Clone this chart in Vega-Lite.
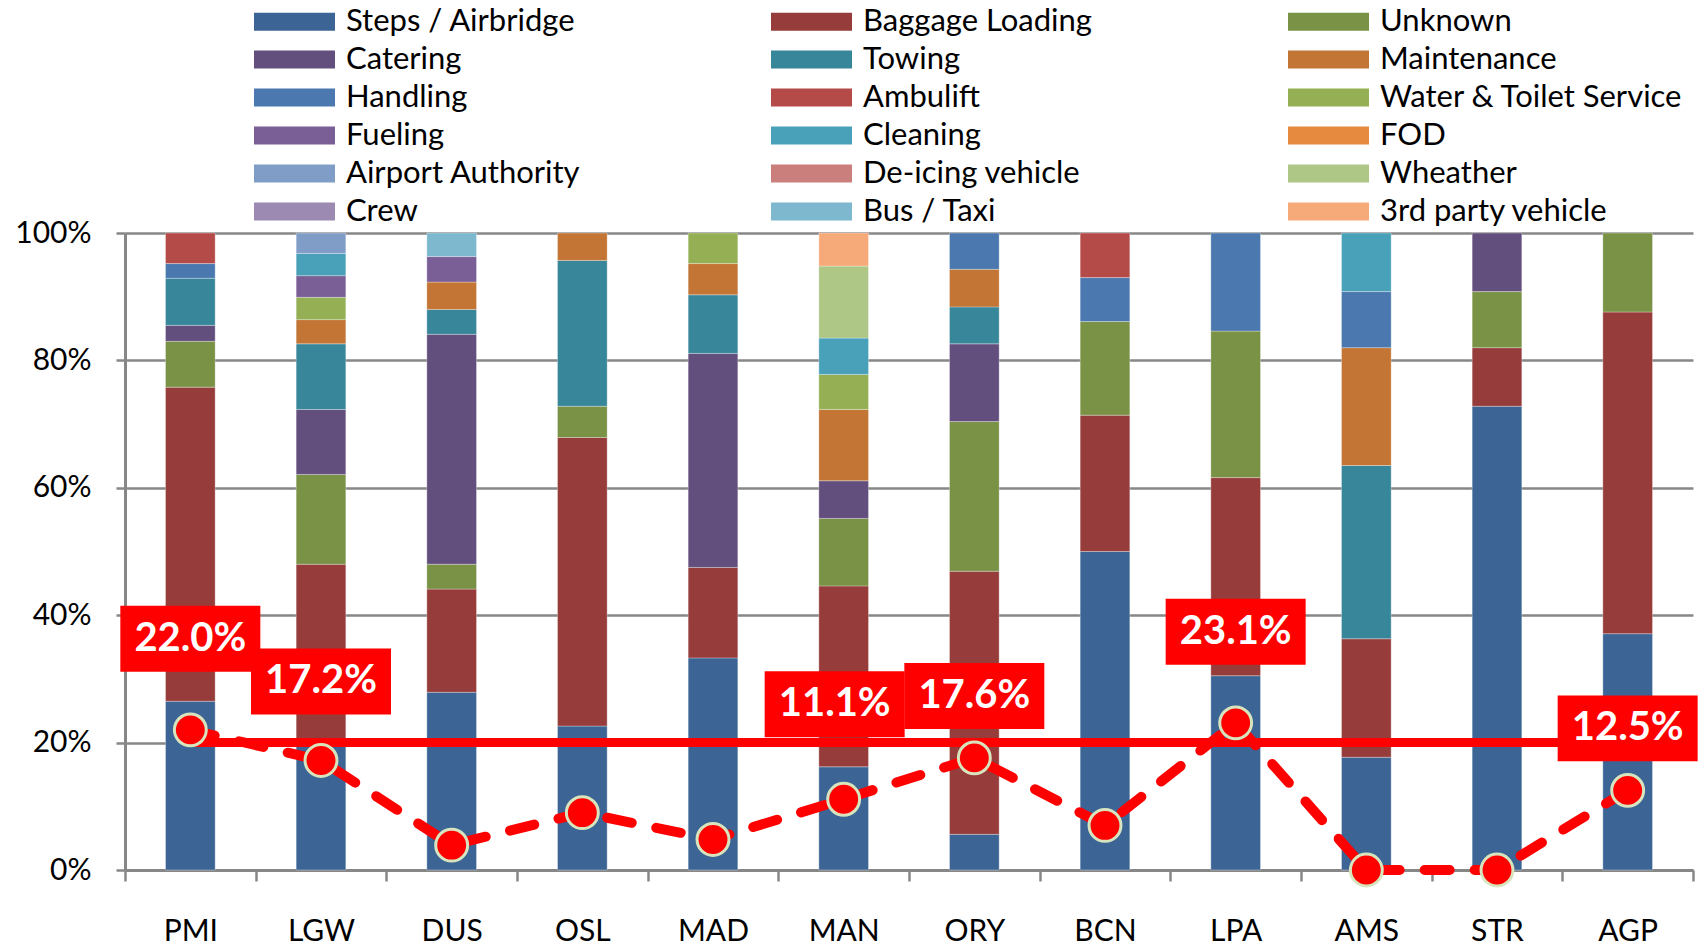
{
  "$schema": "https://vega.github.io/schema/vega-lite/v6.json",
  "width": 1568,
  "height": 637,
  "autosize": {"type": "none"},
  "padding": {"left": 125, "top": 233, "right": 12, "bottom": 76},
  "background": "white",
  "config": {"view": {"stroke": null}, "font": "Lato"},
  "datasets": {
    "causes": [
      {"cause": "Steps / Airbridge", "code": 1},
      {"cause": "Baggage Loading", "code": 2},
      {"cause": "Unknown", "code": 3},
      {"cause": "Catering", "code": 4},
      {"cause": "Towing", "code": 5},
      {"cause": "Maintenance", "code": 6},
      {"cause": "Handling", "code": 7},
      {"cause": "Ambulift", "code": 8},
      {"cause": "Water & Toilet Service", "code": 9},
      {"cause": "Fueling", "code": 10},
      {"cause": "Cleaning", "code": 11},
      {"cause": "FOD", "code": 12},
      {"cause": "Airport Authority", "code": 13},
      {"cause": "De-icing vehicle", "code": 14},
      {"cause": "Wheather", "code": 15},
      {"cause": "Crew", "code": 16},
      {"cause": "Bus / Taxi", "code": 17},
      {"cause": "3rd party vehicle", "code": 18}
    ],
    "shares": [
      {"airport": "PMI", "cause": "Steps / Airbridge", "share": 26.5},
      {"airport": "PMI", "cause": "Baggage Loading", "share": 49.3},
      {"airport": "PMI", "cause": "Unknown", "share": 7.2},
      {"airport": "PMI", "cause": "Catering", "share": 2.5},
      {"airport": "PMI", "cause": "Towing", "share": 7.4},
      {"airport": "PMI", "cause": "Handling", "share": 2.3},
      {"airport": "PMI", "cause": "Ambulift", "share": 4.8},
      {"airport": "LGW", "cause": "Steps / Airbridge", "share": 19.5},
      {"airport": "LGW", "cause": "Baggage Loading", "share": 28.5},
      {"airport": "LGW", "cause": "Unknown", "share": 14.1},
      {"airport": "LGW", "cause": "Catering", "share": 10.2},
      {"airport": "LGW", "cause": "Towing", "share": 10.3},
      {"airport": "LGW", "cause": "Maintenance", "share": 3.8},
      {"airport": "LGW", "cause": "Water & Toilet Service", "share": 3.5},
      {"airport": "LGW", "cause": "Fueling", "share": 3.4},
      {"airport": "LGW", "cause": "Cleaning", "share": 3.5},
      {"airport": "LGW", "cause": "Airport Authority", "share": 3.2},
      {"airport": "DUS", "cause": "Steps / Airbridge", "share": 27.9},
      {"airport": "DUS", "cause": "Baggage Loading", "share": 16.2},
      {"airport": "DUS", "cause": "Unknown", "share": 3.9},
      {"airport": "DUS", "cause": "Catering", "share": 36.1},
      {"airport": "DUS", "cause": "Towing", "share": 3.9},
      {"airport": "DUS", "cause": "Maintenance", "share": 4.3},
      {"airport": "DUS", "cause": "Fueling", "share": 4.0},
      {"airport": "DUS", "cause": "Bus / Taxi", "share": 3.7},
      {"airport": "OSL", "cause": "Steps / Airbridge", "share": 22.6},
      {"airport": "OSL", "cause": "Baggage Loading", "share": 45.3},
      {"airport": "OSL", "cause": "Unknown", "share": 4.9},
      {"airport": "OSL", "cause": "Towing", "share": 22.9},
      {"airport": "OSL", "cause": "Maintenance", "share": 4.3},
      {"airport": "MAD", "cause": "Steps / Airbridge", "share": 33.3},
      {"airport": "MAD", "cause": "Baggage Loading", "share": 14.2},
      {"airport": "MAD", "cause": "Catering", "share": 33.6},
      {"airport": "MAD", "cause": "Towing", "share": 9.2},
      {"airport": "MAD", "cause": "Maintenance", "share": 4.9},
      {"airport": "MAD", "cause": "Water & Toilet Service", "share": 4.8},
      {"airport": "MAN", "cause": "Steps / Airbridge", "share": 16.2},
      {"airport": "MAN", "cause": "Baggage Loading", "share": 28.4},
      {"airport": "MAN", "cause": "Unknown", "share": 10.6},
      {"airport": "MAN", "cause": "Catering", "share": 5.9},
      {"airport": "MAN", "cause": "Maintenance", "share": 11.2},
      {"airport": "MAN", "cause": "Water & Toilet Service", "share": 5.5},
      {"airport": "MAN", "cause": "Cleaning", "share": 5.7},
      {"airport": "MAN", "cause": "Wheather", "share": 11.3},
      {"airport": "MAN", "cause": "3rd party vehicle", "share": 5.2},
      {"airport": "ORY", "cause": "Steps / Airbridge", "share": 5.6},
      {"airport": "ORY", "cause": "Baggage Loading", "share": 41.3},
      {"airport": "ORY", "cause": "Unknown", "share": 23.5},
      {"airport": "ORY", "cause": "Catering", "share": 12.2},
      {"airport": "ORY", "cause": "Towing", "share": 5.8},
      {"airport": "ORY", "cause": "Maintenance", "share": 5.9},
      {"airport": "ORY", "cause": "Handling", "share": 5.7},
      {"airport": "BCN", "cause": "Steps / Airbridge", "share": 50.0},
      {"airport": "BCN", "cause": "Baggage Loading", "share": 21.4},
      {"airport": "BCN", "cause": "Unknown", "share": 14.7},
      {"airport": "BCN", "cause": "Handling", "share": 6.9},
      {"airport": "BCN", "cause": "Ambulift", "share": 7.0},
      {"airport": "LPA", "cause": "Steps / Airbridge", "share": 30.5},
      {"airport": "LPA", "cause": "Baggage Loading", "share": 31.1},
      {"airport": "LPA", "cause": "Unknown", "share": 23.0},
      {"airport": "LPA", "cause": "Handling", "share": 15.4},
      {"airport": "AMS", "cause": "Steps / Airbridge", "share": 17.7},
      {"airport": "AMS", "cause": "Baggage Loading", "share": 18.6},
      {"airport": "AMS", "cause": "Towing", "share": 27.2},
      {"airport": "AMS", "cause": "Maintenance", "share": 18.5},
      {"airport": "AMS", "cause": "Handling", "share": 8.8},
      {"airport": "AMS", "cause": "Cleaning", "share": 9.2},
      {"airport": "STR", "cause": "Steps / Airbridge", "share": 72.8},
      {"airport": "STR", "cause": "Baggage Loading", "share": 9.2},
      {"airport": "STR", "cause": "Unknown", "share": 8.8},
      {"airport": "STR", "cause": "Catering", "share": 9.2},
      {"airport": "AGP", "cause": "Steps / Airbridge", "share": 37.1},
      {"airport": "AGP", "cause": "Baggage Loading", "share": 50.5},
      {"airport": "AGP", "cause": "Unknown", "share": 12.4}
    ],
    "rates": [
      {"airport": "PMI", "rate": 0.22},
      {"airport": "LGW", "rate": 0.172},
      {"airport": "DUS", "rate": 0.039},
      {"airport": "OSL", "rate": 0.09},
      {"airport": "MAD", "rate": 0.048},
      {"airport": "MAN", "rate": 0.111},
      {"airport": "ORY", "rate": 0.176},
      {"airport": "BCN", "rate": 0.07},
      {"airport": "LPA", "rate": 0.231},
      {"airport": "AMS", "rate": 0.0},
      {"airport": "STR", "rate": 0.0},
      {"airport": "AGP", "rate": 0.125}
    ],
    "target": [
      {"airport": "PMI", "target": 0.2},
      {"airport": "AGP", "target": 0.2}
    ]
  },
  "layer": [
    {
      "data": {"name": "shares"},
      "transform": [
        {"lookup": "cause", "from": {"data": {"name": "causes"}, "key": "cause", "fields": ["code"]}}
      ],
      "mark": {"type": "bar", "width": {"band": 0.38}, "stroke": "#ffffff", "strokeWidth": 0.6, "strokeOpacity": 0.5},
      "encoding": {
        "x": {
          "field": "airport", "type": "nominal", "title": null,
          "scale": {"domain": ["PMI", "LGW", "DUS", "OSL", "MAD", "MAN", "ORY", "BCN", "LPA", "AMS", "STR", "AGP"], "paddingInner": 0, "paddingOuter": 0},
          "axis": {
            "labelFont": "Lato", "labelFontSize": 30, "labelColor": "#000000", "labelAngle": 0,
            "labelPadding": 35, "tickSize": 11, "tickWidth": 2.5, "tickColor": "#878787",
            "domainColor": "#878787", "domainWidth": 3, "tickBand": "extent", "grid": false
          }
        },
        "y": {
          "field": "share", "type": "quantitative", "stack": "normalize", "title": null,
          "scale": {"domain": [0, 1], "nice": false},
          "axis": {
            "values": [0, 0.2, 0.4, 0.6, 0.8, 1], "format": ".0%",
            "labelFont": "Lato", "labelFontSize": 30, "labelColor": "#000000", "labelPadding": 25,
            "tickSize": 9, "tickWidth": 2.5, "tickColor": "#878787",
            "domainColor": "#878787", "domainWidth": 3,
            "grid": true, "gridColor": "#878787", "gridWidth": 2.5
          }
        },
        "order": {"field": "code", "type": "quantitative", "sort": "ascending"},
        "color": {
          "field": "cause", "type": "nominal",
          "scale": {
            "domain": ["Steps / Airbridge", "Baggage Loading", "Unknown", "Catering", "Towing", "Maintenance", "Handling", "Ambulift", "Water & Toilet Service", "Fueling", "Cleaning", "FOD", "Airport Authority", "De-icing vehicle", "Wheather", "Crew", "Bus / Taxi", "3rd party vehicle"],
            "range": ["#3C6595", "#963D3B", "#7A9245", "#634F7D", "#388699", "#C27535", "#4A78AF", "#B54B49", "#95B054", "#7A5E96", "#48A1B9", "#E68A3F", "#809DC8", "#CB7F7D", "#AEC686", "#9C8AB3", "#7DB8CE", "#F7AA79"]
          },
          "legend": {
            "orient": "none", "legendX": 149, "legendY": -232, "columns": 3, "direction": "horizontal", "gridAlign": "all",
            "columnPadding": 121, "rowPadding": 2, "title": null, "padding": 0,
            "symbolType": "M-2,-0.4444H2V0.4444H-2Z", "symbolSize": 1640, "symbolStrokeWidth": 0,
            "labelFont": "Lato", "labelFontSize": 31, "labelColor": "#000000", "labelOffset": 31, "labelLimit": 600
          }
        }
      }
    },
    {
      "data": {"name": "target"},
      "mark": {"type": "line", "color": "#FF0000", "strokeWidth": 9},
      "encoding": {
        "x": {"field": "airport", "type": "nominal", "title": null},
        "y": {"field": "target", "type": "quantitative", "title": null}
      }
    },
    {
      "data": {"name": "rates"},
      "mark": {"type": "line", "color": "#FF0000", "strokeWidth": 10, "strokeDash": [25, 25], "strokeCap": "round"},
      "encoding": {
        "x": {"field": "airport", "type": "nominal", "title": null},
        "y": {"field": "rate", "type": "quantitative", "title": null}
      }
    },
    {
      "data": {"name": "rates"},
      "mark": {"type": "point", "filled": true, "fill": "#FF0000", "stroke": "#D7E4BD", "strokeWidth": 3, "size": 1018, "opacity": 1},
      "encoding": {
        "x": {"field": "airport", "type": "nominal", "title": null},
        "y": {"field": "rate", "type": "quantitative", "title": null}
      }
    },
    {
      "data": {"name": "rates"},
      "transform": [{"filter": {"field": "airport", "oneOf": ["PMI", "LPA"]}}],
      "encoding": {
        "x": {"field": "airport", "type": "nominal", "title": null},
        "y": {"field": "rate", "type": "quantitative", "title": null}
      },
      "layer": [
        {"mark": {"type": "point", "shape": "M-1,-0.4714H1V0.4714H-1Z", "size": 19600, "filled": true, "color": "#FF0000", "opacity": 1, "yOffset": -91}},
        {"mark": {"type": "text", "font": "Lato", "fontSize": 40, "fontWeight": "bold", "color": "#FFFFFF", "baseline": "middle", "yOffset": -91},
         "encoding": {"text": {"field": "rate", "type": "quantitative", "format": ".1%"}}}
      ]
    },
    {
      "data": {"name": "rates"},
      "transform": [{"filter": {"field": "airport", "oneOf": ["LGW"]}}],
      "encoding": {
        "x": {"field": "airport", "type": "nominal", "title": null},
        "y": {"field": "rate", "type": "quantitative", "title": null}
      },
      "layer": [
        {"mark": {"type": "point", "shape": "M-1,-0.4714H1V0.4714H-1Z", "size": 19600, "filled": true, "color": "#FF0000", "opacity": 1, "yOffset": -79}},
        {"mark": {"type": "text", "font": "Lato", "fontSize": 40, "fontWeight": "bold", "color": "#FFFFFF", "baseline": "middle", "yOffset": -79},
         "encoding": {"text": {"field": "rate", "type": "quantitative", "format": ".1%"}}}
      ]
    },
    {
      "data": {"name": "rates"},
      "transform": [{"filter": {"field": "airport", "oneOf": ["MAN"]}}],
      "encoding": {
        "x": {"field": "airport", "type": "nominal", "title": null},
        "y": {"field": "rate", "type": "quantitative", "title": null}
      },
      "layer": [
        {"mark": {"type": "point", "shape": "M-1,-0.4714H1V0.4714H-1Z", "size": 19600, "filled": true, "color": "#FF0000", "opacity": 1, "yOffset": -95, "xOffset": -9}},
        {"mark": {"type": "text", "font": "Lato", "fontSize": 40, "fontWeight": "bold", "color": "#FFFFFF", "baseline": "middle", "yOffset": -95, "xOffset": -9},
         "encoding": {"text": {"field": "rate", "type": "quantitative", "format": ".1%"}}}
      ]
    },
    {
      "data": {"name": "rates"},
      "transform": [{"filter": {"field": "airport", "oneOf": ["ORY", "AGP"]}}],
      "encoding": {
        "x": {"field": "airport", "type": "nominal", "title": null},
        "y": {"field": "rate", "type": "quantitative", "title": null}
      },
      "layer": [
        {"mark": {"type": "point", "shape": "M-1,-0.4714H1V0.4714H-1Z", "size": 19600, "filled": true, "color": "#FF0000", "opacity": 1, "yOffset": -62}},
        {"mark": {"type": "text", "font": "Lato", "fontSize": 40, "fontWeight": "bold", "color": "#FFFFFF", "baseline": "middle", "yOffset": -62},
         "encoding": {"text": {"field": "rate", "type": "quantitative", "format": ".1%"}}}
      ]
    }
  ]
}
